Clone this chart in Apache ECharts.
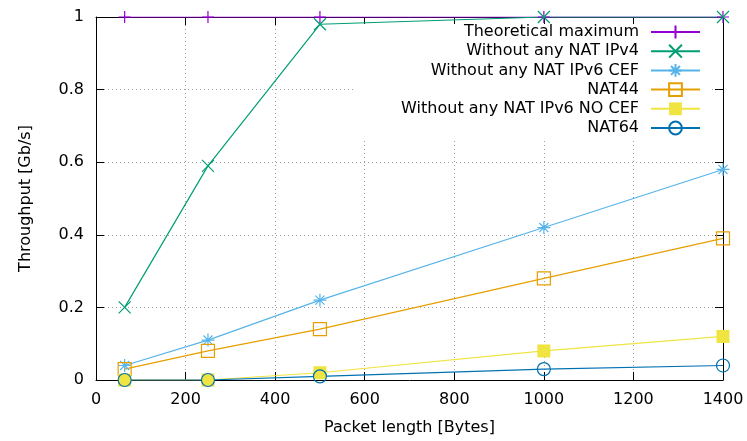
<!DOCTYPE html>
<html><head><meta charset="utf-8">
<script src="https://cdn.jsdelivr.net/npm/echarts@6/dist/echarts.min.js"></script>
<style>html,body{margin:0;padding:0;background:#fff}#c{width:747px;height:441px}</style>
</head><body><div id="c"></div>
<script>
const packetLengths = [64, 250, 500, 1000, 1400];
const theoreticalMax = [1, 1, 1, 1, 1];
const natIPv4 = [0.2, 0.59, 0.98, 1.0, 1.0];
const ipv6Cef = [0.04, 0.11, 0.22, 0.42, 0.58];
const nat44 = [0.03, 0.08, 0.14, 0.28, 0.39];
const ipv6NoCef = [0, 0, 0.02, 0.08, 0.12];
const nat64 = [0, 0, 0.01, 0.03, 0.04];
const seriesNames = ['Theoretical maximum', 'Without any NAT IPv4', 'Without any NAT IPv6 CEF', 'NAT44', 'Without any NAT IPv6 NO CEF', 'NAT64'];
const xAxisTitle = 'Packet length [Bytes]';
const yAxisTitle = 'Throughput [Gb/s]';

const FONT = 'DejaVu Sans';
const PLUS = 'path://M0,5L10,5M5,0L5,10';
const CROSS = 'path://M0,0L10,10M0,10L10,0';
const STAR = 'path://M0,5L10,5M5,0L5,10M1.5,1.5L8.5,8.5M1.5,8.5L8.5,1.5';

function mk(name, values, color, symbol, size, filled) {
  return {
    name: name, type: 'line',
    data: packetLengths.map((x, i) => [x, values[i]]),
    symbol: symbol, symbolSize: size, showSymbol: true,
    lineStyle: { color: color, width: 1.2 },
    itemStyle: { color: filled ? color : 'rgba(0,0,0,0)', borderColor: color, borderWidth: filled ? 0 : 1.2 },
    emphasis: { disabled: true },
    animation: false
  };
}

const series = [
  mk(seriesNames[0], theoreticalMax, '#9400d3', PLUS, 12, false),
  mk(seriesNames[1], natIPv4, '#009e73', CROSS, 12, false),
  mk(seriesNames[2], ipv6Cef, '#56b4e9', STAR, 13, false),
  mk(seriesNames[3], nat44, '#e69f00', 'rect', 13, false),
  mk(seriesNames[4], ipv6NoCef, '#f0e442', 'rect', 13, true),
  mk(seriesNames[5], nat64, '#0072b2', 'circle', 13, false)
];

const legends = seriesNames.map((n, i) => ({
  data: [n], right: 46, top: 24 + i * 19.2, align: 'right', orient: 'vertical',
  itemWidth: 49, itemHeight: 16, padding: 0, itemGap: 0, selectedMode: false,
  textStyle: { fontFamily: FONT, fontSize: 16, color: '#000', padding: [0, 7, 0, 0] }
}));

const splitStyle = { show: true, lineStyle: { color: '#a0a0a0', width: 1, type: [1, 3] } };
const tickStyle = { show: true, inside: true, length: 8, lineStyle: { color: '#000', width: 1 } };
const lineStyleAxis = { show: true, onZero: false, lineStyle: { color: '#000', width: 1 } };
const labelStyle = { fontFamily: FONT, fontSize: 16, color: '#000', margin: 12, formatter: v => String(v) };

const chart = echarts.init(document.getElementById('c'), null, { renderer: 'canvas' });
chart.setOption({
  animation: false,
  backgroundColor: '#fff',
  grid: { left: 96, right: 24, top: 17, bottom: 61, containLabel: false },
  xAxis: [
    { type: 'value', min: 0, max: 1400, interval: 200, position: 'bottom',
      name: xAxisTitle, nameLocation: 'middle', nameGap: 40,
      nameTextStyle: { fontFamily: FONT, fontSize: 16, color: '#000' },
      axisLine: lineStyleAxis, axisTick: tickStyle, axisLabel: labelStyle, splitLine: splitStyle },
    { type: 'value', min: 0, max: 1400, interval: 200, position: 'top',
      axisLine: lineStyleAxis, axisTick: tickStyle, axisLabel: { show: false }, splitLine: { show: false } }
  ],
  yAxis: [
    { type: 'value', min: 0, max: 1, interval: 0.2, position: 'left',
      name: yAxisTitle, nameLocation: 'middle', nameGap: 62,
      nameTextStyle: { fontFamily: FONT, fontSize: 16, color: '#000' },
      axisLine: lineStyleAxis, axisTick: tickStyle, axisLabel: labelStyle, splitLine: splitStyle },
    { type: 'value', min: 0, max: 1, interval: 0.2, position: 'right',
      axisLine: lineStyleAxis, axisTick: tickStyle, axisLabel: { show: false }, splitLine: { show: false } }
  ],
  legend: legends,
  graphic: [
    { type: 'rect', z: 1, shape: { x: 353, y: 24, width: 358, height: 116 }, style: { fill: '#fff' }, silent: true }
  ],
  series: series
});
</script>
</body></html>
